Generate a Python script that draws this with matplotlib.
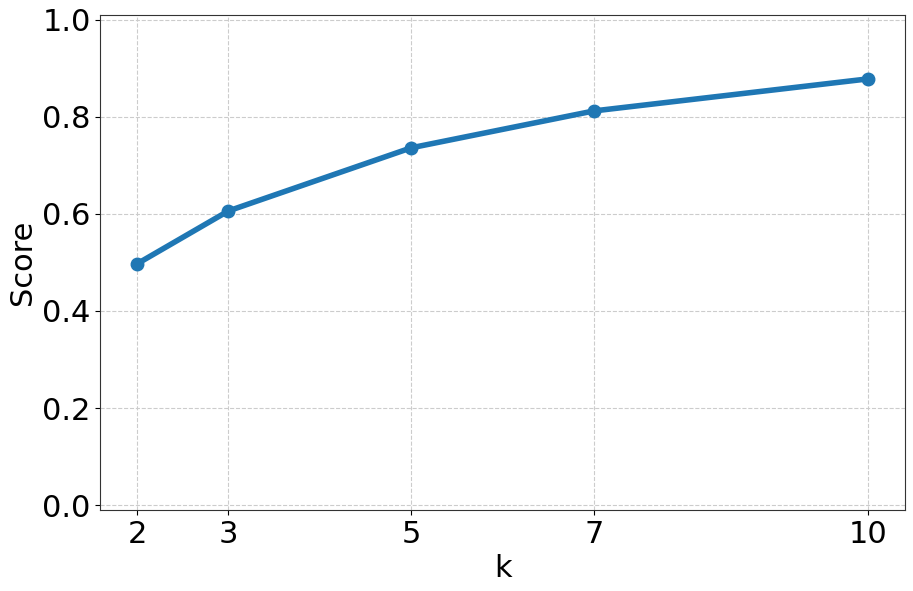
import matplotlib
matplotlib.use("Agg")
import matplotlib.pyplot as plt

k_values = [2, 3, 5, 7, 10]
scores = [0.497, 0.606, 0.736, 0.812, 0.878]
y_ticks = [0.0, 0.2, 0.4, 0.6, 0.8, 1.0]

fig, ax = plt.subplots(figsize=(9.13, 5.91), dpi=100)
ax.plot(k_values, scores, color="#1f77b4", linewidth=4, marker="o", markersize=9)
ax.set_xticks(k_values)
ax.set_yticks(y_ticks)
ax.set_ylim(-0.01, 1.01)
ax.set_xlabel("k", fontsize=22)
ax.set_ylabel("Score", fontsize=22)
ax.tick_params(labelsize=22)
ax.grid(True, linestyle="--", color="#cccccc", linewidth=0.8)
for s in ax.spines.values():
    s.set_color("#333333")
fig.subplots_adjust(left=0.11, right=0.991, top=0.975, bottom=0.137)
fig.savefig("out.png", dpi=100)
